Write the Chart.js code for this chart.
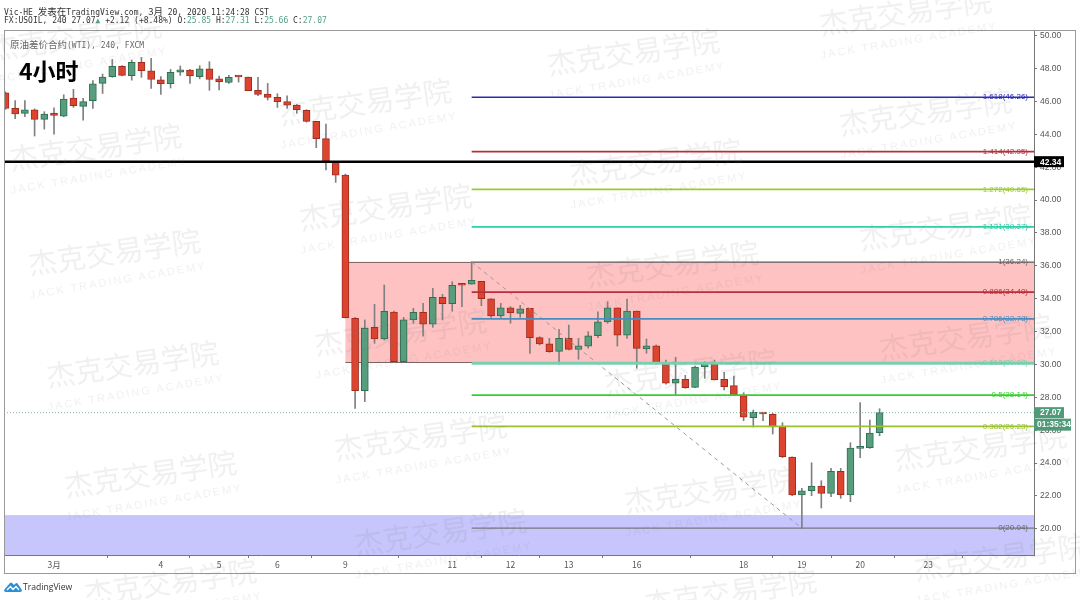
<!DOCTYPE html>
<html>
<head>
<meta charset="utf-8">
<title>USOIL 240</title>
<script src="https://cdn.jsdelivr.net/npm/chart.js@4"></script>
<style>
  html, body { margin: 0; padding: 0; background: #fff; width: 1080px; height: 600px; overflow: hidden; }
  canvas { position: absolute; left: 0; top: 0; }
  .txt { position: absolute; white-space: nowrap; }
  .head { font: 8px "DejaVu Sans Mono", "Noto Sans CJK SC", monospace; color: #333; }
  .cjk { font-family: "Noto Sans CJK SC"; font-size: 9.5px; }
  .num { color: #53a08a; }
  .wm { position: absolute; white-space: nowrap; color: rgba(110,110,110,0.105); pointer-events: none; }
  .wm1 { font: 29px "Noto Sans CJK SC"; transform: translate(-50%, -50%) rotate(-8deg); }
  .wm2 { font: 11px "Liberation Sans"; letter-spacing: 2.1px; transform: translate(-50%, -50%) rotate(-9.5deg); }
</style>
</head>
<body>
<canvas id="grafica" width="1080" height="600"></canvas>

<div class="txt head" style="left:4px;top:4px">Vic-HE <span class="cjk">发表在</span>TradingView.com, <span class="cjk">3月</span> 20, 2020 11:24:28 CST</div>
<div class="txt head" style="left:4px;top:16px">FX:USOIL, 240 27.07<span style="color:#53a08a">▲</span> +2.12 (+8.48%) O:<span class="num">25.85</span> H:<span class="num">27.31</span> L:<span class="num">25.66</span> C:<span class="num">27.07</span></div>
<div class="txt head" style="left:10px;top:37px;color:#666"><span class="cjk">原油差价合约</span>(WTI), 240, FXCM</div>
<div class="txt" style="left:19px;top:53px;font:bold 23px 'Noto Sans CJK SC';color:#000">4小时</div>

<svg style="position:absolute;left:4px;top:581px" width="18" height="12" viewBox="0 0 18 12">
  <path d="M0 9 L6 2 Q7 1 8 2 L10 4 L11.5 2.5 Q12.5 1.5 13.5 2.5 L18 9 Q18 11 16 11 L2 11 Q0 11 0 9 Z" fill="#2a8fd8"/>
  <path d="M3 9 L6.5 5.5 L9 8.5 L12 5.5 L15 9" fill="none" stroke="#fff" stroke-width="1.3"/>
</svg>
<div class="txt" style="left:23px;top:581px;font:8.6px 'Open Sans';color:#333">TradingView</div>

<script>
// valores
const open_ = [46.53,45.58,45.28,45.50,44.91,45.30,45.11,46.21,45.70,46.05,
  47.10,47.51,48.14,47.57,48.38,47.87,47.32,47.08,47.79,47.91,
  47.51,47.99,47.38,47.16,47.51,47.49,46.68,46.45,46.25,45.99,
  45.78,45.46,44.79,43.74,42.32,41.53,
  32.81,28.40,32.26,31.55,33.19,30.17,32.71,33.17,32.46,34.09,33.70,34.90,34.88,35.06,
  34.00,32.95,33.45,33.11,33.42,31.63,31.25,30.80,31.59,30.92,31.12,31.75,32.59,33.44,
  31.79,33.25,30.94,31.14,30.05,28.87,29.10,28.61,29.87,30.03,29.10,28.71,28.10,26.76,
  27.07,26.97,26.26,24.37,22.06,22.32,22.61,22.16,23.50,22.06,24.90,24.94,25.85];
const high = [46.59,46.05,46.05,45.55,45.38,45.62,46.41,46.74,46.19,47.28,
  47.67,48.56,48.18,48.52,48.68,48.62,47.51,47.95,48.16,47.95,
  48.18,48.42,47.55,47.59,47.55,47.49,47.47,47.10,46.47,46.35,
  45.82,45.50,44.79,44.63,42.36,41.59,
  32.87,32.71,33.66,34.84,33.25,32.87,33.42,33.72,34.63,34.27,35.04,34.94,36.25,35.06,
  34.00,33.72,33.52,33.60,33.42,31.69,31.59,32.14,32.40,31.59,32.00,33.21,33.82,33.44,
  33.98,33.25,31.55,31.19,30.27,30.44,29.34,29.91,30.17,30.27,29.52,29.30,28.28,27.23,
  27.09,27.03,26.46,24.39,22.47,24.02,22.93,23.68,23.68,25.24,27.68,26.62,27.31];
const low = [45.52,44.95,45.07,43.90,44.32,44.02,45.07,45.64,44.87,45.58,
  46.49,47.47,47.55,47.30,47.47,46.80,46.43,46.82,47.59,47.10,
  47.38,46.68,46.70,47.10,47.18,46.66,46.35,46.09,45.64,45.58,
  45.28,44.75,43.19,41.83,41.08,32.83,
  27.33,27.74,31.29,31.49,30.11,30.17,32.51,31.73,32.26,32.71,33.24,33.52,34.88,33.58,
  32.87,32.85,32.51,32.87,30.68,31.19,30.74,30.01,30.88,30.32,30.99,31.63,32.51,31.12,
  31.59,29.77,30.68,30.01,28.81,28.10,28.55,28.59,29.16,29.06,28.45,28.10,26.58,26.20,
  26.58,25.77,24.33,22.02,20.04,22.02,21.27,21.96,21.86,21.65,24.33,24.90,25.66];
const close_ = [45.58,45.24,45.50,44.91,45.24,45.16,46.15,45.74,45.99,47.08,
  47.49,48.14,47.59,48.38,47.87,47.34,47.08,47.77,47.93,47.55,
  47.99,47.34,47.20,47.47,47.49,46.66,46.43,46.25,45.99,45.78,
  45.50,44.79,43.74,42.30,41.52,32.85,
  28.40,32.22,31.55,33.24,30.17,32.72,33.17,32.46,34.09,33.70,34.82,34.82,35.12,34.00,
  32.95,33.45,33.15,33.39,31.63,31.25,30.78,31.59,30.92,31.14,31.75,32.60,33.44,31.79,
  33.25,30.98,31.14,30.05,28.87,29.10,28.59,29.85,30.05,29.07,28.65,28.10,26.79,27.09,
  26.99,26.20,24.39,22.06,22.32,22.61,22.16,23.50,22.08,24.92,24.94,25.83,27.07];

const yTicks = [20,22,24,26,28,30,32,34,36,38,40,42,44,46,48,50];
const xTickIdx = [5,16,22,28,35,46,52,58,65,76,82,88,95];
const xTickLabels = ["3月","4","5","6","9","11","12","13","16","18","19","20","23"];

const fibRatios = ["1.618","1.414","1.272","1.131","1","0.886","0.786","0.618","0.5","0.382","0"];
const fibPrices = [46.26,42.95,40.65,38.37,36.24,34.40,32.78,30.08,28.14,26.23,20.04];
const fibColors = ["#2a2ab8","#b5303c","#9ccc2e","#2ed0a8","#8a7f7f","#b5303c","#4a8cc0","#78d0b0","#36d030","#9cc030","#77777f"];
const fibWidths = [1.7,1.7,1.7,1.7,1,1.7,1.7,3,1.7,1.7,1.2];

const supportPrice = 42.34;
const lastPrice = 27.07;
const zonePink = [36.24, 30.15];
const zoneBlue = 20.84;

const xMin = -0.15, xMax = 105.9, yMin = 18.41, yMax = 50.35;
const fibStart = 48, pinkStart = 35, dashEnd = 82;
const verde = "#579d7e", verdeB = "#2f6f52", rojo = "#dd4430", rojoB = "#a02c1e";

const indices = open_.map((v, i) => i);
const velas = indices.map(i => ({ x: i, y: [Math.min(open_[i], close_[i]), Math.max(open_[i], close_[i])] }));
const mechas = indices.map(i => ({ x: i, y: [low[i], high[i]] }));
const sube = indices.map(i => close_[i] >= open_[i]);

const lineaFib = fibPrices.map((p, i) => ({
  type: "line",
  data: [{ x: fibStart, y: p }, { x: xMax, y: p }],
  borderColor: fibColors[i],
  borderWidth: fibWidths[i],
  pointRadius: 0,
  order: 1,
}));

// zonas y etiquetas
const dibujos = {
  id: "dibujos",
  beforeDatasetsDraw(chart) {
    const { ctx, chartArea: a, scales: { x, y } } = chart;
    ctx.save();
    ctx.fillStyle = "#c6c6fc";
    ctx.fillRect(a.left, y.getPixelForValue(zoneBlue), a.width, a.bottom - y.getPixelForValue(zoneBlue));
    const px = x.getPixelForValue(pinkStart);
    const t = y.getPixelForValue(zonePink[0]), b = y.getPixelForValue(zonePink[1]);
    ctx.fillStyle = "#ffc2c2";
    ctx.fillRect(px, t, a.right - px, b - t);
    ctx.strokeStyle = "#7a6464";
    ctx.lineWidth = 1;
    ctx.beginPath();
    ctx.moveTo(px, t + 0.5); ctx.lineTo(a.right, t + 0.5);
    ctx.moveTo(px, b + 0.5); ctx.lineTo(a.right, b + 0.5);
    ctx.stroke();
    ctx.restore();
  },
  afterDraw(chart) {
    const { ctx, chartArea: a, scales: { y } } = chart;
    ctx.save();
    // marco exterior
    ctx.strokeStyle = "#999";
    ctx.lineWidth = 1;
    ctx.strokeRect(4.5, 30.5, 1071, 543);
    // etiquetas fib
    ctx.font = "8px 'Liberation Sans'";
    ctx.textAlign = "right";
    ctx.textBaseline = "middle";
    fibPrices.forEach((p, i) => {
      ctx.fillStyle = fibColors[i] === "#8a7f7f" || fibColors[i] === "#77777f" ? "#666" : fibColors[i];
      ctx.fillText(fibRatios[i] + "(" + p.toFixed(2) + ")", a.right - 6, y.getPixelForValue(p));
    });
    // etiquetas de precio
    ctx.textAlign = "left";
    ctx.font = "bold 8.5px 'Liberation Sans'";
    const tag = (txt, yc, w, h, bg, dx) => {
      ctx.fillStyle = bg;
      ctx.fillRect(a.right, yc - h / 2, w, h);
      ctx.fillStyle = "#fff";
      ctx.fillText(txt, a.right + dx, yc + 0.5);
    };
    tag(supportPrice.toFixed(2), y.getPixelForValue(supportPrice), 30, 11, "#000", 6);
    const yl = y.getPixelForValue(lastPrice);
    tag(lastPrice.toFixed(2), yl, 30, 11, "#4f9a78", 6);
    tag("01:35:34", yl + 12, 37, 12, "#4f9a78", 3);
    ctx.restore();
  },
};

const ctx = document.getElementById("grafica").getContext("2d");
new Chart(ctx, {
  type: "bar",
  plugins: [dibujos],
  data: {
    datasets: [
      ...lineaFib,
      {
        type: "line",
        data: [{ x: xMin, y: supportPrice }, { x: xMax, y: supportPrice }],
        borderColor: "#000", borderWidth: 2.5, pointRadius: 0, order: 0,
      },
      {
        type: "line",
        data: [{ x: xMin, y: lastPrice }, { x: xMax, y: lastPrice }],
        borderColor: "#7fb8a4", borderWidth: 1, borderDash: [1, 2], pointRadius: 0, order: 1,
      },
      {
        type: "line",
        data: [{ x: fibStart, y: fibPrices[4] }, { x: dashEnd, y: fibPrices[10] }],
        borderColor: "#9a9a9a", borderWidth: 1, borderDash: [4, 4], pointRadius: 0, order: 1,
      },
      {
        type: "bar",
        data: mechas,
        backgroundColor: "#808080",
        barThickness: 1,
        grouped: false,
        order: 4,
      },
      {
        type: "bar",
        data: velas,
        backgroundColor: sube.map(s => (s ? verde : rojo)),
        borderColor: sube.map(s => (s ? verdeB : rojoB)),
        borderWidth: 1,
        borderSkipped: false,
        barThickness: 7,
        minBarLength: 2,
        grouped: false,
        order: 3,
      },
    ],
  },
  options: {
    responsive: false,
    animation: false,
    devicePixelRatio: 1,
    layout: { padding: { left: 4, top: 30, right: 4, bottom: 27 } },
    plugins: { legend: { display: false }, tooltip: { enabled: false }, title: { display: false } },
    scales: {
      x: {
        type: "linear",
        min: xMin,
        max: xMax,
        offset: false,
        afterBuildTicks(axis) { axis.ticks = xTickIdx.map(v => ({ value: v })); },
        afterFit(axis) { axis.height = 18; },
        grid: { drawOnChartArea: false, tickLength: 3, color: "#777" },
        border: { color: "#777" },
        ticks: {
          autoSkip: false,
          maxRotation: 0,
          padding: 2,
          color: "#555",
          font: { family: "'Noto Sans CJK SC', 'Liberation Sans'", size: 8.5 },
          callback(v) { return xTickLabels[xTickIdx.indexOf(v)]; },
        },
      },
      y: {
        position: "right",
        min: yMin,
        max: yMax,
        afterBuildTicks(axis) { axis.ticks = yTicks.map(v => ({ value: v })); },
        afterFit(axis) { axis.width = 42; },
        grid: { drawOnChartArea: false, tickLength: 3, color: "#777" },
        border: { color: "#777" },
        ticks: {
          padding: 3,
          color: "#555",
          font: { family: "'Liberation Sans'", size: 8.5 },
          callback(v) { return v.toFixed(2); },
        },
      },
    },
  },
});

// marca de agua
const marcas = [[75,35],[95,145],[114,250],[132,362],[150,472],[170,580],
  [365,100],[385,205],[400,330],[420,435],[440,530],
  [633,50],[655,160],[672,262],[690,370],[710,488],[730,590],
  [905,10],[925,110],[945,225],[965,335],[980,445],[1000,555]];
marcas.forEach(([mx, my]) => {
  const a = document.createElement("div");
  a.className = "wm wm1";
  a.style.left = mx + "px";
  a.style.top = my + "px";
  a.textContent = "杰克交易学院";
  document.body.appendChild(a);
  const b = document.createElement("div");
  b.className = "wm wm2";
  b.style.left = mx + 4 + "px";
  b.style.top = my + 30 + "px";
  b.textContent = "JACK TRADING ACADEMY";
  document.body.appendChild(b);
});
</script>
</body>
</html>
